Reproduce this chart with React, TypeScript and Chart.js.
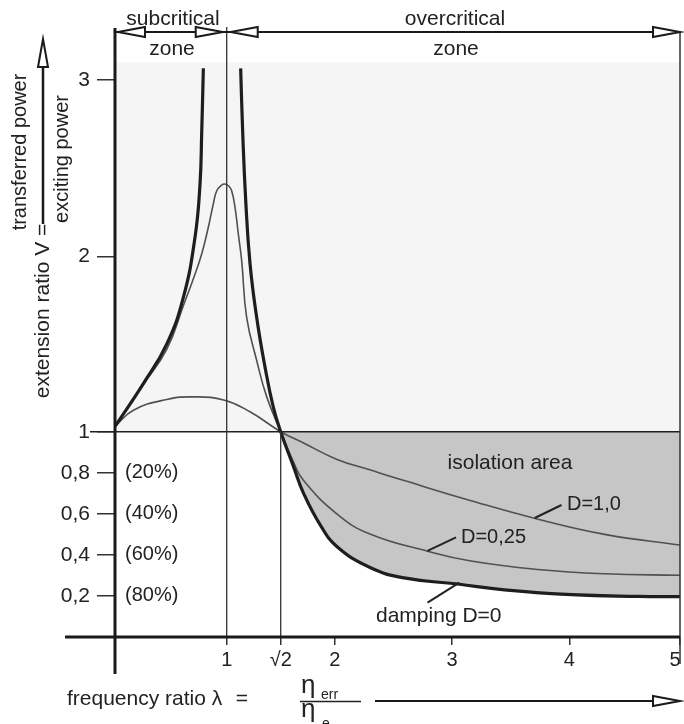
import React, { useEffect, useRef } from 'react';
import { Chart, registerables, LinearScale } from 'chart.js';

const FONT = '"Liberation Sans", Arial, Helvetica, sans-serif';

// frequency ratio λ (x) / extension ratio V (y)
const lambdaD0 = [0, 0.254, 0.463, 0.612, 0.716, 0.761, 0.776, 0.791, 0.95, 1.107, 1.123, 1.146, 1.179, 1.23, 1.294, 1.357, 1.4142, 1.553, 1.662, 1.844, 2.02, 2.306, 2.592, 3.048, 3.447, 4.02, 4.625, 5];
const vD0 = [1.03, 1.275, 1.5, 1.767, 2.108, 2.411, 2.697, 3.066, null, 3.066, 2.697, 2.316, 1.959, 1.653, 1.369, 1.142, 1, 0.83, 0.7, 0.545, 0.44, 0.337, 0.288, 0.258, 0.23, 0.206, 0.198, 0.197];

const lambdaD025 = [0, 0.254, 0.463, 0.612, 0.716, 0.776, 0.835, 0.88, 0.911, 0.955, 0.984, 1.015, 1.038, 1.064, 1.089, 1.115, 1.153, 1.23, 1.307, 1.4142, 1.553, 1.662, 2.02, 2.306, 2.792, 3.162, 3.733, 4.32, 5];
const vD025 = [1.03, 1.27, 1.47, 1.72, 1.9, 2.015, 2.165, 2.298, 2.373, 2.405, 2.411, 2.4, 2.373, 2.278, 2.129, 1.976, 1.653, 1.407, 1.199, 1, 0.852, 0.762, 0.599, 0.5, 0.418, 0.37, 0.329, 0.308, 0.301];

const lambdaD1 = [0, 0.165, 0.463, 0.701, 0.981, 1.179, 1.4142, 1.662, 2.02, 2.306, 2.592, 3.162, 3.733, 4.32, 5];
const vD1 = [1.03, 1.123, 1.184, 1.199, 1.18, 1.114, 1, 0.945, 0.865, 0.813, 0.762, 0.664, 0.574, 0.5, 0.448];

const X_TICKS = [1, Math.SQRT2, 2, 3, 4, 5];
const Y_TICKS = [0.2, 0.4, 0.6, 0.8, 1, 2, 3];
const PERCENT_LABELS = ['(80%)', '(60%)', '(40%)', '(20%)'];

// schematic (piecewise-linear) axis scales: [value, fraction of axis]
const SCALE_KNOTS: Record<string, number[][]> = {
  x: [[0, 0], [1, 0.1977], [Math.SQRT2, 0.2933], [2, 0.3889], [3, 0.5965], [4, 0.8042], [5, 1]],
  y: [[0, 0], [1, 0.3371], [2, 0.6245], [3, 0.9146], [3.294, 1]],
};

function toFrac(knots: number[][], v: number) {
  let i = 0;
  while (i < knots.length - 2 && v > knots[i + 1][0]) i++;
  const [v0, f0] = knots[i];
  const [v1, f1] = knots[i + 1];
  return f0 + ((v - v0) / (v1 - v0)) * (f1 - f0);
}
function fromFrac(knots: number[][], f: number) {
  let i = 0;
  while (i < knots.length - 2 && f > knots[i + 1][1]) i++;
  const [v0, f0] = knots[i];
  const [v1, f1] = knots[i + 1];
  return v0 + ((f - f0) / (f1 - f0)) * (v1 - v0);
}

class PiecewiseScale extends LinearScale {
  static id = 'piecewise';
  static defaults = {};
  getPixelForValue(value: any) {
    if (value === null || value === undefined || isNaN(value)) return NaN;
    return (this as any).getPixelForDecimal(toFrac(SCALE_KNOTS[(this as any).id], value));
  }
  getValueForPixel(pixel: number) {
    return fromFrac(SCALE_KNOTS[(this as any).id], (this as any).getDecimalForPixel(pixel));
  }
}

Chart.register(...registerables, PiecewiseScale as any);

const pts = (xs: number[], ys: (number | null)[]) => xs.map((x, i) => ({ x, y: ys[i] }));

function openArrow(ctx: CanvasRenderingContext2D, tx: number, ty: number, dx: number, dy: number, len: number, half: number) {
  const bx = tx - dx * len, by = ty - dy * len;
  const px = -dy * half, py = dx * half;
  ctx.beginPath();
  ctx.moveTo(tx, ty);
  ctx.lineTo(bx + px, by + py);
  ctx.lineTo(bx - px, by - py);
  ctx.closePath();
  ctx.fillStyle = '#fff';
  ctx.fill();
  ctx.stroke();
}

function line(ctx: CanvasRenderingContext2D, x1: number, y1: number, x2: number, y2: number, w: number, c = '#222') {
  ctx.beginPath();
  ctx.lineWidth = w;
  ctx.strokeStyle = c;
  ctx.moveTo(x1, y1);
  ctx.lineTo(x2, y2);
  ctx.stroke();
}

const annotations = {
  id: 'annotations',
  beforeDraw(chart: any) {
    const { ctx, scales } = chart;
    const x = scales.x, y = scales.y;
    ctx.save();
    ctx.fillStyle = '#f5f5f5';
    const l = x.getPixelForValue(0), r = x.getPixelForValue(5);
    const t = y.getPixelForValue(3.1), b = y.getPixelForValue(1);
    ctx.fillRect(l, t, r - l, b - t);
    ctx.restore();
  },
  afterDraw(chart: any) {
    const { ctx, scales } = chart;
    const x = scales.x, y = scales.y;
    const x0 = x.getPixelForValue(0);
    const x1 = x.getPixelForValue(1);
    const xs2 = x.getPixelForValue(Math.SQRT2);
    const x5 = x.getPixelForValue(5);
    const y0 = y.getPixelForValue(0);
    const y1 = y.getPixelForValue(1);
    const top = chart.chartArea.top;
    ctx.save();
    ctx.lineCap = 'butt';
    // reference lines
    line(ctx, 90, y1, x5, y1, 1.5);
    line(ctx, x1, top - 1, x1, y0, 1.3, '#333');
    line(ctx, xs2, y1, xs2, y0, 1.3, '#333');
    line(ctx, x5, 32, x5, 664, 1.5, '#333');
    // axes
    line(ctx, x0, top, x0, 674, 3, '#1a1a1a');
    line(ctx, 65, y0, x5, y0, 3, '#1a1a1a');

    // zone arrows
    line(ctx, x0, 32, x5 - 20, 32, 2, '#1a1a1a');
    ctx.lineWidth = 2;
    ctx.strokeStyle = '#1a1a1a';
    openArrow(ctx, x0 + 3, 32, -1, 0, 27, 5);
    openArrow(ctx, x1 - 4, 32, 1, 0, 27, 5);
    openArrow(ctx, x1 + 4, 32, -1, 0, 27, 5);
    openArrow(ctx, x5, 32, 1, 0, 27, 5);

    ctx.fillStyle = '#222';
    ctx.textBaseline = 'alphabetic';
    ctx.textAlign = 'center';
    ctx.font = `21px ${FONT}`;
    ctx.fillText('subcritical', 173, 25);
    ctx.fillText('zone', 172, 55);
    ctx.fillText('overcritical', 455, 25);
    ctx.fillText('zone', 456, 55);

    // y title
    line(ctx, 43, 68, 43, 224, 2.5, '#1a1a1a');
    ctx.lineWidth = 2;
    ctx.strokeStyle = '#1a1a1a';
    openArrow(ctx, 43, 39, 0, -1, 28, 5);
    ctx.fillStyle = '#222';
    ctx.font = `20px ${FONT}`;
    ctx.textBaseline = 'middle';
    ctx.textAlign = 'center';
    const rot = (txt: string, cx: number, cy: number) => {
      ctx.save();
      ctx.translate(cx, cy);
      ctx.rotate(-Math.PI / 2);
      ctx.fillText(txt, 0, 0);
      ctx.restore();
    };
    rot('transferred power', 20, 152);
    rot('exciting power', 62, 159);
    ctx.font = `21px ${FONT}`;
    rot('extension ratio V =', 43, 311);

    // percentage labels
    ctx.font = `20px ${FONT}`;
    ctx.textAlign = 'left';
    ctx.textBaseline = 'middle';
    [0.2, 0.4, 0.6, 0.8].forEach((v, i) => {
      ctx.fillText(PERCENT_LABELS[i], 125, y.getPixelForValue(v));
    });

    // isolation area + damping labels
    ctx.textBaseline = 'alphabetic';
    ctx.font = `21px ${FONT}`;
    ctx.textAlign = 'center';
    ctx.fillText('isolation area', 510, 469);
    ctx.textAlign = 'left';
    ctx.font = `20px ${FONT}`;
    ctx.fillText('D=1,0', 567, 510);
    ctx.fillText('D=0,25', 461, 543);
    ctx.font = `21px ${FONT}`;
    ctx.fillText('damping D=0', 376, 622);
    line(ctx, 534.7, 518, 561.5, 505, 2, '#222');
    line(ctx, 427.5, 550.8, 456, 537.4, 2, '#222');
    line(ctx, 459.3, 582.6, 427.5, 602.7, 2, '#222');

    // x title
    ctx.fillStyle = '#222';
    ctx.font = `21px ${FONT}`;
    ctx.textAlign = 'left';
    ctx.fillText('frequency ratio λ', 67, 705);
    ctx.textAlign = 'right';
    ctx.fillText('=', 248, 705);
    ctx.textAlign = 'left';
    ctx.font = `26px ${FONT}`;
    ctx.fillText('η', 301, 693);
    ctx.fillText('η', 301, 717);
    ctx.font = `14px ${FONT}`;
    ctx.fillText('err', 321, 699);
    ctx.fillText('e', 322, 728);
    line(ctx, 300, 701.5, 361, 701.5, 1.5, '#222');
    line(ctx, 375, 701, 655, 701, 2, '#1a1a1a');
    ctx.lineWidth = 2;
    ctx.strokeStyle = '#1a1a1a';
    openArrow(ctx, x5, 701, 1, 0, 27, 5);
    ctx.restore();
  },
};

export default function App() {
  const ref = useRef<HTMLCanvasElement | null>(null);
  useEffect(() => {
    document.body.style.margin = '0';
    const canvas = ref.current;
    if (!canvas) return;
    Chart.defaults.font.family = FONT;
    const chart = new Chart(canvas, {
      type: 'line',
      data: {
        datasets: [
          {
            label: 'damping D=0',
            data: pts(lambdaD0, vD0),
            borderColor: '#1e1e1e',
            borderWidth: 3.2,
            fill: { target: { value: 1 }, above: 'rgba(0,0,0,0)', below: '#c6c6c6' },
          },
          {
            label: 'D=0,25',
            data: pts(lambdaD025, vD025),
            borderColor: '#505050',
            borderWidth: 1.6,
            fill: false,
          },
          {
            label: 'D=1,0',
            data: pts(lambdaD1, vD1),
            borderColor: '#505050',
            borderWidth: 1.6,
            fill: false,
          },
        ] as any,
      },
      options: {
        animation: false,
        responsive: false,
        spanGaps: false,
        layout: { padding: { top: 28, right: 4, left: 0, bottom: 0 } },
        elements: {
          point: { radius: 0, hoverRadius: 0 },
          line: { tension: 0.45, capBezierPoints: true },
        },
        plugins: {
          legend: { display: false },
          tooltip: { enabled: false },
          filler: { drawTime: 'beforeDatasetsDraw' },
        } as any,
        scales: {
          x: {
            type: 'piecewise' as any,
            min: 0,
            max: 5,
            bounds: 'data',
            afterBuildTicks: (s: any) => {
              s.ticks = X_TICKS.map((v) => ({ value: v }));
            },
            afterFit: (s: any) => {
              s.height = 87;
              s.paddingLeft = 0;
              s.paddingRight = 0;
            },
            grid: { drawOnChartArea: false, drawTicks: true, tickLength: 8, color: '#333', lineWidth: 1.5 },
            border: { display: false },
            ticks: {
              autoSkip: false,
              maxRotation: 0,
              padding: 3,
              color: '#222',
              font: { size: 20, family: FONT },
              callback: (v: any) =>
                Math.abs(v - Math.SQRT2) < 1e-6 ? '√2' : v === 5 ? '5\u2002' : String(v),
            },
          } as any,
          y: {
            type: 'piecewise' as any,
            min: 0,
            max: 3.294,
            bounds: 'data',
            afterBuildTicks: (s: any) => {
              s.ticks = Y_TICKS.map((v) => ({ value: v }));
            },
            afterFit: (s: any) => {
              s.width = 115;
              s.paddingTop = 0;
              s.paddingBottom = 0;
            },
            grid: { drawOnChartArea: false, drawTicks: true, tickLength: 18, color: '#333', lineWidth: 1.5 },
            border: { display: false },
            ticks: {
              autoSkip: false,
              padding: 7,
              color: '#222',
              font: { size: 21, family: FONT },
              callback: (v: any) => String(v).replace('.', ','),
            },
          } as any,
        },
      },
      plugins: [annotations as any],
    });
    return () => chart.destroy();
  }, []);
  return (
    <div style={{ width: 684, height: 724 }}>
      <canvas ref={ref} width={684} height={724} style={{ display: 'block' }} />
    </div>
  );
}
